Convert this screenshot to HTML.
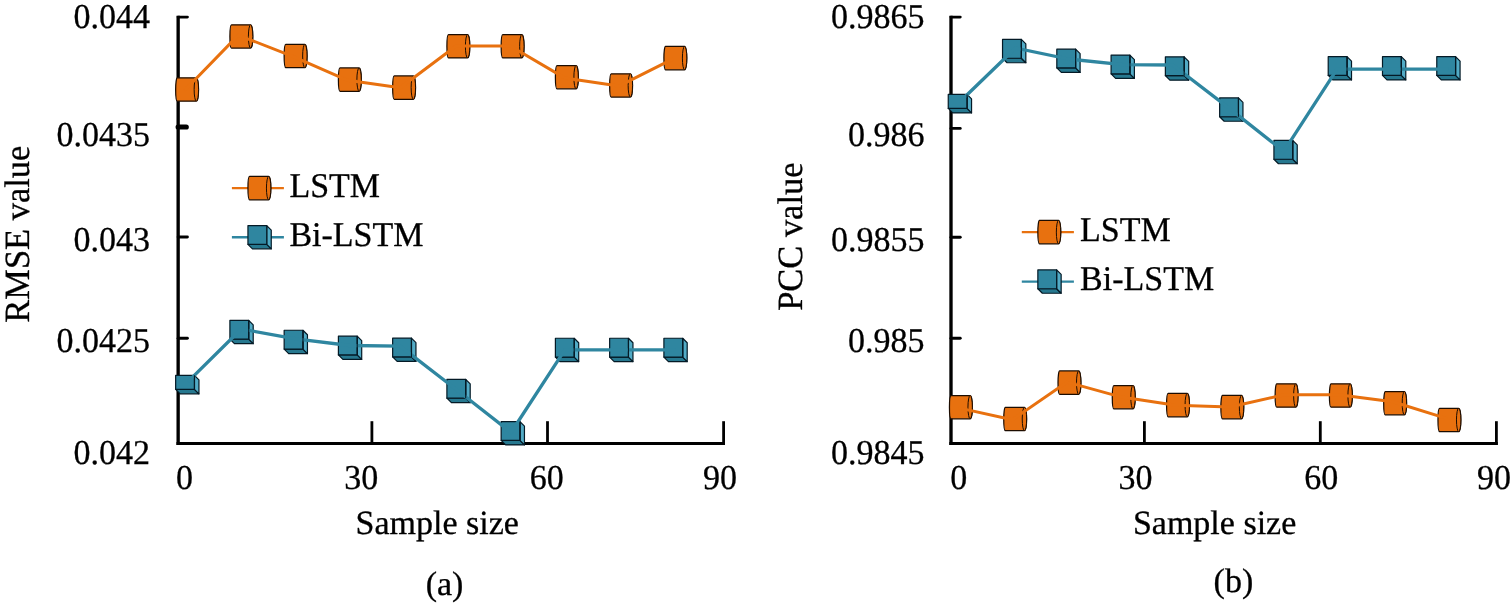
<!DOCTYPE html>
<html lang="en">
<head>
<meta charset="utf-8">
<title>LSTM vs Bi-LSTM: RMSE and PCC versus sample size</title>
<style>
html, body { margin: 0; padding: 0; background: #ffffff; }
body { width: 1511px; height: 606px; overflow: hidden; }
svg { display: block; }
svg text { font-family: "Liberation Serif", serif; font-size: 34px; fill: #000; stroke: #000; stroke-width: 0.3px; text-rendering: geometricPrecision; }
</style>
</head>
<body>
<svg width="1511" height="606" viewBox="0 0 1511 606">
<rect x="0" y="0" width="1511" height="606" fill="#ffffff"/>
<g><line x1="178.15" y1="15.65" x2="178.15" y2="444.925" stroke="#000" stroke-width="3.35"/><line x1="176.475" y1="443.5" x2="725.0" y2="443.5" stroke="#000" stroke-width="2.85"/><line x1="178.15" y1="17.1" x2="187.4" y2="17.1" stroke="#000" stroke-width="2.9" stroke-linecap="round"/><line x1="178.15" y1="127.0" x2="186.25" y2="127.0" stroke="#000" stroke-width="5.2" stroke-linecap="round"/><line x1="178.15" y1="237.0" x2="187.4" y2="237.0" stroke="#000" stroke-width="2.9" stroke-linecap="round"/><line x1="178.15" y1="338.2" x2="187.4" y2="338.2" stroke="#000" stroke-width="2.9" stroke-linecap="round"/><line x1="371.9" y1="444.925" x2="371.9" y2="421.2" stroke="#000" stroke-width="2.8"/><line x1="547.5" y1="444.925" x2="547.5" y2="421.2" stroke="#000" stroke-width="2.8"/><line x1="723.6" y1="444.925" x2="723.6" y2="421.2" stroke="#000" stroke-width="2.8"/></g>
<g><path d="M177.25,77.85 L196.35,77.85 A2.2,11.65 0 0 1 196.35,101.15 L177.25,101.15 A1.6,11.65 0 0 1 177.25,77.85 Z" fill="#E8710F" stroke="#1c0c00" stroke-width="1.25" stroke-linejoin="round"/><ellipse cx="196.35" cy="89.50" rx="2.2" ry="11.65" fill="#E8710F" stroke="#1c0c00" stroke-width="1.0"/><path d="M231.50,24.75 L250.60,24.75 A2.2,11.65 0 0 1 250.60,48.05 L231.50,48.05 A1.6,11.65 0 0 1 231.50,24.75 Z" fill="#E8710F" stroke="#1c0c00" stroke-width="1.25" stroke-linejoin="round"/><ellipse cx="250.60" cy="36.40" rx="2.2" ry="11.65" fill="#E8710F" stroke="#1c0c00" stroke-width="1.0"/><path d="M285.75,44.35 L304.85,44.35 A2.2,11.65 0 0 1 304.85,67.65 L285.75,67.65 A1.6,11.65 0 0 1 285.75,44.35 Z" fill="#E8710F" stroke="#1c0c00" stroke-width="1.25" stroke-linejoin="round"/><ellipse cx="304.85" cy="56.00" rx="2.2" ry="11.65" fill="#E8710F" stroke="#1c0c00" stroke-width="1.0"/><path d="M340.00,67.95 L359.10,67.95 A2.2,11.65 0 0 1 359.10,91.25 L340.00,91.25 A1.6,11.65 0 0 1 340.00,67.95 Z" fill="#E8710F" stroke="#1c0c00" stroke-width="1.25" stroke-linejoin="round"/><ellipse cx="359.10" cy="79.60" rx="2.2" ry="11.65" fill="#E8710F" stroke="#1c0c00" stroke-width="1.0"/><path d="M394.25,75.95 L413.35,75.95 A2.2,11.65 0 0 1 413.35,99.25 L394.25,99.25 A1.6,11.65 0 0 1 394.25,75.95 Z" fill="#E8710F" stroke="#1c0c00" stroke-width="1.25" stroke-linejoin="round"/><ellipse cx="413.35" cy="87.60" rx="2.2" ry="11.65" fill="#E8710F" stroke="#1c0c00" stroke-width="1.0"/><path d="M448.50,34.65 L467.60,34.65 A2.2,11.65 0 0 1 467.60,57.95 L448.50,57.95 A1.6,11.65 0 0 1 448.50,34.65 Z" fill="#E8710F" stroke="#1c0c00" stroke-width="1.25" stroke-linejoin="round"/><ellipse cx="467.60" cy="46.30" rx="2.2" ry="11.65" fill="#E8710F" stroke="#1c0c00" stroke-width="1.0"/><path d="M502.75,34.65 L521.85,34.65 A2.2,11.65 0 0 1 521.85,57.95 L502.75,57.95 A1.6,11.65 0 0 1 502.75,34.65 Z" fill="#E8710F" stroke="#1c0c00" stroke-width="1.25" stroke-linejoin="round"/><ellipse cx="521.85" cy="46.30" rx="2.2" ry="11.65" fill="#E8710F" stroke="#1c0c00" stroke-width="1.0"/><path d="M557.00,65.55 L576.10,65.55 A2.2,11.65 0 0 1 576.10,88.85 L557.00,88.85 A1.6,11.65 0 0 1 557.00,65.55 Z" fill="#E8710F" stroke="#1c0c00" stroke-width="1.25" stroke-linejoin="round"/><ellipse cx="576.10" cy="77.20" rx="2.2" ry="11.65" fill="#E8710F" stroke="#1c0c00" stroke-width="1.0"/><path d="M611.25,73.75 L630.35,73.75 A2.2,11.65 0 0 1 630.35,97.05 L611.25,97.05 A1.6,11.65 0 0 1 611.25,73.75 Z" fill="#E8710F" stroke="#1c0c00" stroke-width="1.25" stroke-linejoin="round"/><ellipse cx="630.35" cy="85.40" rx="2.2" ry="11.65" fill="#E8710F" stroke="#1c0c00" stroke-width="1.0"/><path d="M665.50,46.45 L684.60,46.45 A2.2,11.65 0 0 1 684.60,69.75 L665.50,69.75 A1.6,11.65 0 0 1 665.50,46.45 Z" fill="#E8710F" stroke="#1c0c00" stroke-width="1.25" stroke-linejoin="round"/><ellipse cx="684.60" cy="58.10" rx="2.2" ry="11.65" fill="#E8710F" stroke="#1c0c00" stroke-width="1.0"/><path d="M184.80,90.20 L238.35,35.10 L293.30,56.70 L347.55,80.30 L400.30,87.80 L456.05,46.00 L510.30,46.00 L564.55,77.90 L618.80,86.10 L673.05,58.80" fill="none" stroke="#E8710F" stroke-width="3.0" stroke-linecap="butt" stroke-linejoin="round"/></g>
<g><polygon points="175.65,389.35 194.45,389.35 198.95,393.85 180.15,393.85" fill="#26788F" stroke="#041a26" stroke-width="1.2" stroke-linejoin="round"/><polygon points="194.45,375.35 198.95,379.85 198.95,393.85 194.45,389.35" fill="#52ABC6" stroke="#041a26" stroke-width="1.2" stroke-linejoin="round"/><rect x="175.65" y="375.35" width="18.80" height="14.00" fill="#2F86A0" stroke="#041a26" stroke-width="1.2" stroke-linejoin="round"/><polygon points="229.90,339.15 248.70,339.15 253.20,343.65 234.40,343.65" fill="#26788F" stroke="#041a26" stroke-width="1.2" stroke-linejoin="round"/><polygon points="248.70,320.35 253.20,324.85 253.20,343.65 248.70,339.15" fill="#52ABC6" stroke="#041a26" stroke-width="1.2" stroke-linejoin="round"/><rect x="229.90" y="320.35" width="18.80" height="18.80" fill="#2F86A0" stroke="#041a26" stroke-width="1.2" stroke-linejoin="round"/><polygon points="284.15,349.05 302.95,349.05 307.45,353.55 288.65,353.55" fill="#26788F" stroke="#041a26" stroke-width="1.2" stroke-linejoin="round"/><polygon points="302.95,330.25 307.45,334.75 307.45,353.55 302.95,349.05" fill="#52ABC6" stroke="#041a26" stroke-width="1.2" stroke-linejoin="round"/><rect x="284.15" y="330.25" width="18.80" height="18.80" fill="#2F86A0" stroke="#041a26" stroke-width="1.2" stroke-linejoin="round"/><polygon points="338.40,354.95 357.20,354.95 361.70,359.45 342.90,359.45" fill="#26788F" stroke="#041a26" stroke-width="1.2" stroke-linejoin="round"/><polygon points="357.20,336.15 361.70,340.65 361.70,359.45 357.20,354.95" fill="#52ABC6" stroke="#041a26" stroke-width="1.2" stroke-linejoin="round"/><rect x="338.40" y="336.15" width="18.80" height="18.80" fill="#2F86A0" stroke="#041a26" stroke-width="1.2" stroke-linejoin="round"/><polygon points="392.65,356.95 411.45,356.95 415.95,361.45 397.15,361.45" fill="#26788F" stroke="#041a26" stroke-width="1.2" stroke-linejoin="round"/><polygon points="411.45,338.15 415.95,342.65 415.95,361.45 411.45,356.95" fill="#52ABC6" stroke="#041a26" stroke-width="1.2" stroke-linejoin="round"/><rect x="392.65" y="338.15" width="18.80" height="18.80" fill="#2F86A0" stroke="#041a26" stroke-width="1.2" stroke-linejoin="round"/><polygon points="446.90,398.15 465.70,398.15 470.20,402.65 451.40,402.65" fill="#26788F" stroke="#041a26" stroke-width="1.2" stroke-linejoin="round"/><polygon points="465.70,379.35 470.20,383.85 470.20,402.65 465.70,398.15" fill="#52ABC6" stroke="#041a26" stroke-width="1.2" stroke-linejoin="round"/><rect x="446.90" y="379.35" width="18.80" height="18.80" fill="#2F86A0" stroke="#041a26" stroke-width="1.2" stroke-linejoin="round"/><polygon points="501.15,440.35 519.95,440.35 524.45,444.85 505.65,444.85" fill="#26788F" stroke="#041a26" stroke-width="1.2" stroke-linejoin="round"/><polygon points="519.95,421.55 524.45,426.05 524.45,444.85 519.95,440.35" fill="#52ABC6" stroke="#041a26" stroke-width="1.2" stroke-linejoin="round"/><rect x="501.15" y="421.55" width="18.80" height="18.80" fill="#2F86A0" stroke="#041a26" stroke-width="1.2" stroke-linejoin="round"/><polygon points="555.40,357.05 574.20,357.05 578.70,361.55 559.90,361.55" fill="#26788F" stroke="#041a26" stroke-width="1.2" stroke-linejoin="round"/><polygon points="574.20,338.25 578.70,342.75 578.70,361.55 574.20,357.05" fill="#52ABC6" stroke="#041a26" stroke-width="1.2" stroke-linejoin="round"/><rect x="555.40" y="338.25" width="18.80" height="18.80" fill="#2F86A0" stroke="#041a26" stroke-width="1.2" stroke-linejoin="round"/><polygon points="609.65,357.05 628.45,357.05 632.95,361.55 614.15,361.55" fill="#26788F" stroke="#041a26" stroke-width="1.2" stroke-linejoin="round"/><polygon points="628.45,338.25 632.95,342.75 632.95,361.55 628.45,357.05" fill="#52ABC6" stroke="#041a26" stroke-width="1.2" stroke-linejoin="round"/><rect x="609.65" y="338.25" width="18.80" height="18.80" fill="#2F86A0" stroke="#041a26" stroke-width="1.2" stroke-linejoin="round"/><polygon points="663.90,357.05 682.70,357.05 687.20,361.55 668.40,361.55" fill="#26788F" stroke="#041a26" stroke-width="1.2" stroke-linejoin="round"/><polygon points="682.70,338.25 687.20,342.75 687.20,361.55 682.70,357.05" fill="#52ABC6" stroke="#041a26" stroke-width="1.2" stroke-linejoin="round"/><rect x="663.90" y="338.25" width="18.80" height="18.80" fill="#2F86A0" stroke="#041a26" stroke-width="1.2" stroke-linejoin="round"/><path d="M188.00,381.60 L241.25,329.00 L295.50,338.90 L349.75,345.50 L400.10,346.10 L456.25,389.50 L511.00,432.50 L564.85,349.80 L621.00,349.80 L675.25,349.80" fill="none" stroke="#2F86A0" stroke-width="3.3" stroke-linecap="butt" stroke-linejoin="round"/><line x1="194.45" y1="375.35" x2="194.45" y2="389.35" stroke="#041a26" stroke-width="1.1"/><line x1="248.70" y1="320.35" x2="248.70" y2="339.15" stroke="#041a26" stroke-width="1.1"/><line x1="302.95" y1="330.25" x2="302.95" y2="349.05" stroke="#041a26" stroke-width="1.1"/><line x1="357.20" y1="336.15" x2="357.20" y2="354.95" stroke="#041a26" stroke-width="1.1"/><line x1="411.45" y1="338.15" x2="411.45" y2="356.95" stroke="#041a26" stroke-width="1.1"/><line x1="465.70" y1="379.35" x2="465.70" y2="398.15" stroke="#041a26" stroke-width="1.1"/><line x1="519.95" y1="421.55" x2="519.95" y2="440.35" stroke="#041a26" stroke-width="1.1"/><line x1="574.20" y1="338.25" x2="574.20" y2="357.05" stroke="#041a26" stroke-width="1.1"/><line x1="628.45" y1="338.25" x2="628.45" y2="357.05" stroke="#041a26" stroke-width="1.1"/><line x1="682.70" y1="338.25" x2="682.70" y2="357.05" stroke="#041a26" stroke-width="1.1"/></g>
<g><line x1="231.9" y1="188.1" x2="283.9" y2="188.1" stroke="#E8710F" stroke-width="2.4"/><path d="M249.55,176.45 L268.65,176.45 A2.2,11.65 0 0 1 268.65,199.75 L249.55,199.75 A1.6,11.65 0 0 1 249.55,176.45 Z" fill="#E8710F" stroke="#1c0c00" stroke-width="1.25" stroke-linejoin="round"/><ellipse cx="268.65" cy="188.10" rx="2.2" ry="11.65" fill="#E8710F" stroke="#1c0c00" stroke-width="1.0"/><line x1="231.9" y1="237.2" x2="283.9" y2="237.2" stroke="#2F86A0" stroke-width="2.4"/><polygon points="247.95,244.35 266.75,244.35 271.25,248.85 252.45,248.85" fill="#26788F" stroke="#041a26" stroke-width="1.2" stroke-linejoin="round"/><polygon points="266.75,225.55 271.25,230.05 271.25,248.85 266.75,244.35" fill="#52ABC6" stroke="#041a26" stroke-width="1.2" stroke-linejoin="round"/><rect x="247.95" y="225.55" width="18.80" height="18.80" fill="#2F86A0" stroke="#041a26" stroke-width="1.2" stroke-linejoin="round"/><text transform="translate(289.40000000000003,196.6) scale(1,1.02)" text-anchor="start" >LSTM</text><text transform="translate(289.40000000000003,245.7) scale(1,1.02)" text-anchor="start" >Bi-LSTM</text></g>
<g><text transform="translate(150.0,28.0) scale(1,1.025)" text-anchor="end" >0.044</text><text transform="translate(150.0,145.6) scale(1,1.025)" text-anchor="end" >0.0435</text><text transform="translate(150.0,250.9) scale(1,1.025)" text-anchor="end" >0.043</text><text transform="translate(150.0,352.0) scale(1,1.025)" text-anchor="end" >0.0425</text><text transform="translate(150.0,464.0) scale(1,1.025)" text-anchor="end" >0.042</text><text transform="translate(184.4,489.0) scale(1,1.025)" text-anchor="middle" >0</text><text transform="translate(361.2,489.0) scale(1,1.025)" text-anchor="middle" >30</text><text transform="translate(546.8,489.0) scale(1,1.025)" text-anchor="middle" >60</text><text transform="translate(720.0,489.0) scale(1,1.025)" text-anchor="middle" >90</text><text x="437.2" y="533.8" text-anchor="middle" >Sample size</text><text x="444.5" y="594.6" text-anchor="middle" >(a)</text><text transform="translate(28.7,322.7) rotate(-90) scale(1,1.03)" text-anchor="start" style="font-size:34.45px">RMSE value</text></g>
<g><line x1="951.0" y1="15.65" x2="951.0" y2="444.925" stroke="#000" stroke-width="3.35"/><line x1="949.325" y1="443.5" x2="1497.8000000000002" y2="443.5" stroke="#000" stroke-width="2.85"/><line x1="951.0" y1="17.1" x2="960.25" y2="17.1" stroke="#000" stroke-width="2.9" stroke-linecap="round"/><line x1="951.0" y1="128.4" x2="960.25" y2="128.4" stroke="#000" stroke-width="2.9" stroke-linecap="round"/><line x1="951.0" y1="237.3" x2="960.25" y2="237.3" stroke="#000" stroke-width="2.9" stroke-linecap="round"/><line x1="951.0" y1="338.2" x2="960.25" y2="338.2" stroke="#000" stroke-width="2.9" stroke-linecap="round"/><line x1="1144.4" y1="444.925" x2="1144.4" y2="421.2" stroke="#000" stroke-width="2.8"/><line x1="1320.3" y1="444.925" x2="1320.3" y2="421.2" stroke="#000" stroke-width="2.8"/><line x1="1496.4" y1="444.925" x2="1496.4" y2="421.2" stroke="#000" stroke-width="2.8"/></g>
<g><path d="M951.05,395.55 L970.15,395.55 A2.2,11.65 0 0 1 970.15,418.85 L951.05,418.85 A1.6,11.65 0 0 1 951.05,395.55 Z" fill="#E8710F" stroke="#1c0c00" stroke-width="1.25" stroke-linejoin="round"/><ellipse cx="970.15" cy="407.20" rx="2.2" ry="11.65" fill="#E8710F" stroke="#1c0c00" stroke-width="1.0"/><path d="M1005.33,407.35 L1024.43,407.35 A2.2,11.65 0 0 1 1024.43,430.65 L1005.33,430.65 A1.6,11.65 0 0 1 1005.33,407.35 Z" fill="#E8710F" stroke="#1c0c00" stroke-width="1.25" stroke-linejoin="round"/><ellipse cx="1024.43" cy="419.00" rx="2.2" ry="11.65" fill="#E8710F" stroke="#1c0c00" stroke-width="1.0"/><path d="M1059.61,370.95 L1078.71,370.95 A2.2,11.65 0 0 1 1078.71,394.25 L1059.61,394.25 A1.6,11.65 0 0 1 1059.61,370.95 Z" fill="#E8710F" stroke="#1c0c00" stroke-width="1.25" stroke-linejoin="round"/><ellipse cx="1078.71" cy="382.60" rx="2.2" ry="11.65" fill="#E8710F" stroke="#1c0c00" stroke-width="1.0"/><path d="M1113.89,385.55 L1132.99,385.55 A2.2,11.65 0 0 1 1132.99,408.85 L1113.89,408.85 A1.6,11.65 0 0 1 1113.89,385.55 Z" fill="#E8710F" stroke="#1c0c00" stroke-width="1.25" stroke-linejoin="round"/><ellipse cx="1132.99" cy="397.20" rx="2.2" ry="11.65" fill="#E8710F" stroke="#1c0c00" stroke-width="1.0"/><path d="M1168.17,393.45 L1187.27,393.45 A2.2,11.65 0 0 1 1187.27,416.75 L1168.17,416.75 A1.6,11.65 0 0 1 1168.17,393.45 Z" fill="#E8710F" stroke="#1c0c00" stroke-width="1.25" stroke-linejoin="round"/><ellipse cx="1187.27" cy="405.10" rx="2.2" ry="11.65" fill="#E8710F" stroke="#1c0c00" stroke-width="1.0"/><path d="M1222.45,395.45 L1241.55,395.45 A2.2,11.65 0 0 1 1241.55,418.75 L1222.45,418.75 A1.6,11.65 0 0 1 1222.45,395.45 Z" fill="#E8710F" stroke="#1c0c00" stroke-width="1.25" stroke-linejoin="round"/><ellipse cx="1241.55" cy="407.10" rx="2.2" ry="11.65" fill="#E8710F" stroke="#1c0c00" stroke-width="1.0"/><path d="M1276.73,383.85 L1295.83,383.85 A2.2,11.65 0 0 1 1295.83,407.15 L1276.73,407.15 A1.6,11.65 0 0 1 1276.73,383.85 Z" fill="#E8710F" stroke="#1c0c00" stroke-width="1.25" stroke-linejoin="round"/><ellipse cx="1295.83" cy="395.50" rx="2.2" ry="11.65" fill="#E8710F" stroke="#1c0c00" stroke-width="1.0"/><path d="M1331.01,383.85 L1350.11,383.85 A2.2,11.65 0 0 1 1350.11,407.15 L1331.01,407.15 A1.6,11.65 0 0 1 1331.01,383.85 Z" fill="#E8710F" stroke="#1c0c00" stroke-width="1.25" stroke-linejoin="round"/><ellipse cx="1350.11" cy="395.50" rx="2.2" ry="11.65" fill="#E8710F" stroke="#1c0c00" stroke-width="1.0"/><path d="M1385.29,391.55 L1404.39,391.55 A2.2,11.65 0 0 1 1404.39,414.85 L1385.29,414.85 A1.6,11.65 0 0 1 1385.29,391.55 Z" fill="#E8710F" stroke="#1c0c00" stroke-width="1.25" stroke-linejoin="round"/><ellipse cx="1404.39" cy="403.20" rx="2.2" ry="11.65" fill="#E8710F" stroke="#1c0c00" stroke-width="1.0"/><path d="M1439.57,408.25 L1458.67,408.25 A2.2,11.65 0 0 1 1458.67,431.55 L1439.57,431.55 A1.6,11.65 0 0 1 1439.57,408.25 Z" fill="#E8710F" stroke="#1c0c00" stroke-width="1.25" stroke-linejoin="round"/><ellipse cx="1458.67" cy="419.90" rx="2.2" ry="11.65" fill="#E8710F" stroke="#1c0c00" stroke-width="1.0"/><path d="M958.60,407.90 L1012.38,419.70 L1067.16,382.10 L1121.44,397.10 L1175.72,405.20 L1230.00,407.00 L1284.28,394.80 L1338.56,394.70 L1392.84,401.70 L1447.12,418.60" fill="none" stroke="#E8710F" stroke-width="3.0" stroke-linecap="butt" stroke-linejoin="round"/></g>
<g><polygon points="948.25,108.45 967.05,108.45 971.55,112.95 952.75,112.95" fill="#26788F" stroke="#041a26" stroke-width="1.2" stroke-linejoin="round"/><polygon points="967.05,94.45 971.55,98.95 971.55,112.95 967.05,108.45" fill="#52ABC6" stroke="#041a26" stroke-width="1.2" stroke-linejoin="round"/><rect x="948.25" y="94.45" width="18.80" height="14.00" fill="#2F86A0" stroke="#041a26" stroke-width="1.2" stroke-linejoin="round"/><polygon points="1002.53,58.25 1021.33,58.25 1025.83,62.75 1007.03,62.75" fill="#26788F" stroke="#041a26" stroke-width="1.2" stroke-linejoin="round"/><polygon points="1021.33,39.45 1025.83,43.95 1025.83,62.75 1021.33,58.25" fill="#52ABC6" stroke="#041a26" stroke-width="1.2" stroke-linejoin="round"/><rect x="1002.53" y="39.45" width="18.80" height="18.80" fill="#2F86A0" stroke="#041a26" stroke-width="1.2" stroke-linejoin="round"/><polygon points="1056.81,67.95 1075.61,67.95 1080.11,72.45 1061.31,72.45" fill="#26788F" stroke="#041a26" stroke-width="1.2" stroke-linejoin="round"/><polygon points="1075.61,49.15 1080.11,53.65 1080.11,72.45 1075.61,67.95" fill="#52ABC6" stroke="#041a26" stroke-width="1.2" stroke-linejoin="round"/><rect x="1056.81" y="49.15" width="18.80" height="18.80" fill="#2F86A0" stroke="#041a26" stroke-width="1.2" stroke-linejoin="round"/><polygon points="1111.09,73.85 1129.89,73.85 1134.39,78.35 1115.59,78.35" fill="#26788F" stroke="#041a26" stroke-width="1.2" stroke-linejoin="round"/><polygon points="1129.89,55.05 1134.39,59.55 1134.39,78.35 1129.89,73.85" fill="#52ABC6" stroke="#041a26" stroke-width="1.2" stroke-linejoin="round"/><rect x="1111.09" y="55.05" width="18.80" height="18.80" fill="#2F86A0" stroke="#041a26" stroke-width="1.2" stroke-linejoin="round"/><polygon points="1165.37,75.65 1184.17,75.65 1188.67,80.15 1169.87,80.15" fill="#26788F" stroke="#041a26" stroke-width="1.2" stroke-linejoin="round"/><polygon points="1184.17,56.85 1188.67,61.35 1188.67,80.15 1184.17,75.65" fill="#52ABC6" stroke="#041a26" stroke-width="1.2" stroke-linejoin="round"/><rect x="1165.37" y="56.85" width="18.80" height="18.80" fill="#2F86A0" stroke="#041a26" stroke-width="1.2" stroke-linejoin="round"/><polygon points="1219.65,116.75 1238.45,116.75 1242.95,121.25 1224.15,121.25" fill="#26788F" stroke="#041a26" stroke-width="1.2" stroke-linejoin="round"/><polygon points="1238.45,97.95 1242.95,102.45 1242.95,121.25 1238.45,116.75" fill="#52ABC6" stroke="#041a26" stroke-width="1.2" stroke-linejoin="round"/><rect x="1219.65" y="97.95" width="18.80" height="18.80" fill="#2F86A0" stroke="#041a26" stroke-width="1.2" stroke-linejoin="round"/><polygon points="1273.93,159.25 1292.73,159.25 1297.23,163.75 1278.43,163.75" fill="#26788F" stroke="#041a26" stroke-width="1.2" stroke-linejoin="round"/><polygon points="1292.73,140.45 1297.23,144.95 1297.23,163.75 1292.73,159.25" fill="#52ABC6" stroke="#041a26" stroke-width="1.2" stroke-linejoin="round"/><rect x="1273.93" y="140.45" width="18.80" height="18.80" fill="#2F86A0" stroke="#041a26" stroke-width="1.2" stroke-linejoin="round"/><polygon points="1328.21,75.45 1347.01,75.45 1351.51,79.95 1332.71,79.95" fill="#26788F" stroke="#041a26" stroke-width="1.2" stroke-linejoin="round"/><polygon points="1347.01,56.65 1351.51,61.15 1351.51,79.95 1347.01,75.45" fill="#52ABC6" stroke="#041a26" stroke-width="1.2" stroke-linejoin="round"/><rect x="1328.21" y="56.65" width="18.80" height="18.80" fill="#2F86A0" stroke="#041a26" stroke-width="1.2" stroke-linejoin="round"/><polygon points="1382.49,75.45 1401.29,75.45 1405.79,79.95 1386.99,79.95" fill="#26788F" stroke="#041a26" stroke-width="1.2" stroke-linejoin="round"/><polygon points="1401.29,56.65 1405.79,61.15 1405.79,79.95 1401.29,75.45" fill="#52ABC6" stroke="#041a26" stroke-width="1.2" stroke-linejoin="round"/><rect x="1382.49" y="56.65" width="18.80" height="18.80" fill="#2F86A0" stroke="#041a26" stroke-width="1.2" stroke-linejoin="round"/><polygon points="1436.77,75.45 1455.57,75.45 1460.07,79.95 1441.27,79.95" fill="#26788F" stroke="#041a26" stroke-width="1.2" stroke-linejoin="round"/><polygon points="1455.57,56.65 1460.07,61.15 1460.07,79.95 1455.57,75.45" fill="#52ABC6" stroke="#041a26" stroke-width="1.2" stroke-linejoin="round"/><rect x="1436.77" y="56.65" width="18.80" height="18.80" fill="#2F86A0" stroke="#041a26" stroke-width="1.2" stroke-linejoin="round"/><path d="M960.90,100.70 L1015.53,48.00 L1068.16,59.00 L1122.44,64.70 L1172.82,65.00 L1229.00,108.10 L1283.78,151.40 L1337.06,69.20 L1393.84,69.20 L1448.12,69.20" fill="none" stroke="#2F86A0" stroke-width="3.3" stroke-linecap="butt" stroke-linejoin="round"/><line x1="967.05" y1="94.45" x2="967.05" y2="108.45" stroke="#041a26" stroke-width="1.1"/><line x1="1021.33" y1="39.45" x2="1021.33" y2="58.25" stroke="#041a26" stroke-width="1.1"/><line x1="1075.61" y1="49.15" x2="1075.61" y2="67.95" stroke="#041a26" stroke-width="1.1"/><line x1="1129.89" y1="55.05" x2="1129.89" y2="73.85" stroke="#041a26" stroke-width="1.1"/><line x1="1184.17" y1="56.85" x2="1184.17" y2="75.65" stroke="#041a26" stroke-width="1.1"/><line x1="1238.45" y1="97.95" x2="1238.45" y2="116.75" stroke="#041a26" stroke-width="1.1"/><line x1="1292.73" y1="140.45" x2="1292.73" y2="159.25" stroke="#041a26" stroke-width="1.1"/><line x1="1347.01" y1="56.65" x2="1347.01" y2="75.45" stroke="#041a26" stroke-width="1.1"/><line x1="1401.29" y1="56.65" x2="1401.29" y2="75.45" stroke="#041a26" stroke-width="1.1"/><line x1="1455.57" y1="56.65" x2="1455.57" y2="75.45" stroke="#041a26" stroke-width="1.1"/></g>
<g><line x1="1021.8" y1="232.1" x2="1073.9" y2="232.1" stroke="#E8710F" stroke-width="2.4"/><path d="M1039.45,220.45 L1058.55,220.45 A2.2,11.65 0 0 1 1058.55,243.75 L1039.45,243.75 A1.6,11.65 0 0 1 1039.45,220.45 Z" fill="#E8710F" stroke="#1c0c00" stroke-width="1.25" stroke-linejoin="round"/><ellipse cx="1058.55" cy="232.10" rx="2.2" ry="11.65" fill="#E8710F" stroke="#1c0c00" stroke-width="1.0"/><line x1="1021.8" y1="281.6" x2="1073.9" y2="281.6" stroke="#2F86A0" stroke-width="2.4"/><polygon points="1037.85,288.75 1056.65,288.75 1061.15,293.25 1042.35,293.25" fill="#26788F" stroke="#041a26" stroke-width="1.2" stroke-linejoin="round"/><polygon points="1056.65,269.95 1061.15,274.45 1061.15,293.25 1056.65,288.75" fill="#52ABC6" stroke="#041a26" stroke-width="1.2" stroke-linejoin="round"/><rect x="1037.85" y="269.95" width="18.80" height="18.80" fill="#2F86A0" stroke="#041a26" stroke-width="1.2" stroke-linejoin="round"/><text transform="translate(1080.1,240.5) scale(1,1.02)" text-anchor="start" >LSTM</text><text transform="translate(1080.1,289.7) scale(1,1.02)" text-anchor="start" >Bi-LSTM</text></g>
<g><text transform="translate(924.5,28.0) scale(1,1.025)" text-anchor="end" >0.9865</text><text transform="translate(924.5,145.6) scale(1,1.025)" text-anchor="end" >0.986</text><text transform="translate(924.5,250.9) scale(1,1.025)" text-anchor="end" >0.9855</text><text transform="translate(924.5,352.0) scale(1,1.025)" text-anchor="end" >0.985</text><text transform="translate(924.5,464.0) scale(1,1.025)" text-anchor="end" >0.9845</text><text transform="translate(958.8,489.0) scale(1,1.025)" text-anchor="middle" >0</text><text transform="translate(1135.5,489.0) scale(1,1.025)" text-anchor="middle" >30</text><text transform="translate(1321.2,489.0) scale(1,1.025)" text-anchor="middle" >60</text><text transform="translate(1493.9,489.0) scale(1,1.025)" text-anchor="middle" >90</text><text x="1214.6" y="533.8" text-anchor="middle" >Sample size</text><text x="1233.4" y="592.0" text-anchor="middle" >(b)</text><text transform="translate(802.2,310.8) rotate(-90) scale(1,1.03)" text-anchor="start" style="font-size:34.45px">PCC value</text></g>
</svg>
</body>
</html>
